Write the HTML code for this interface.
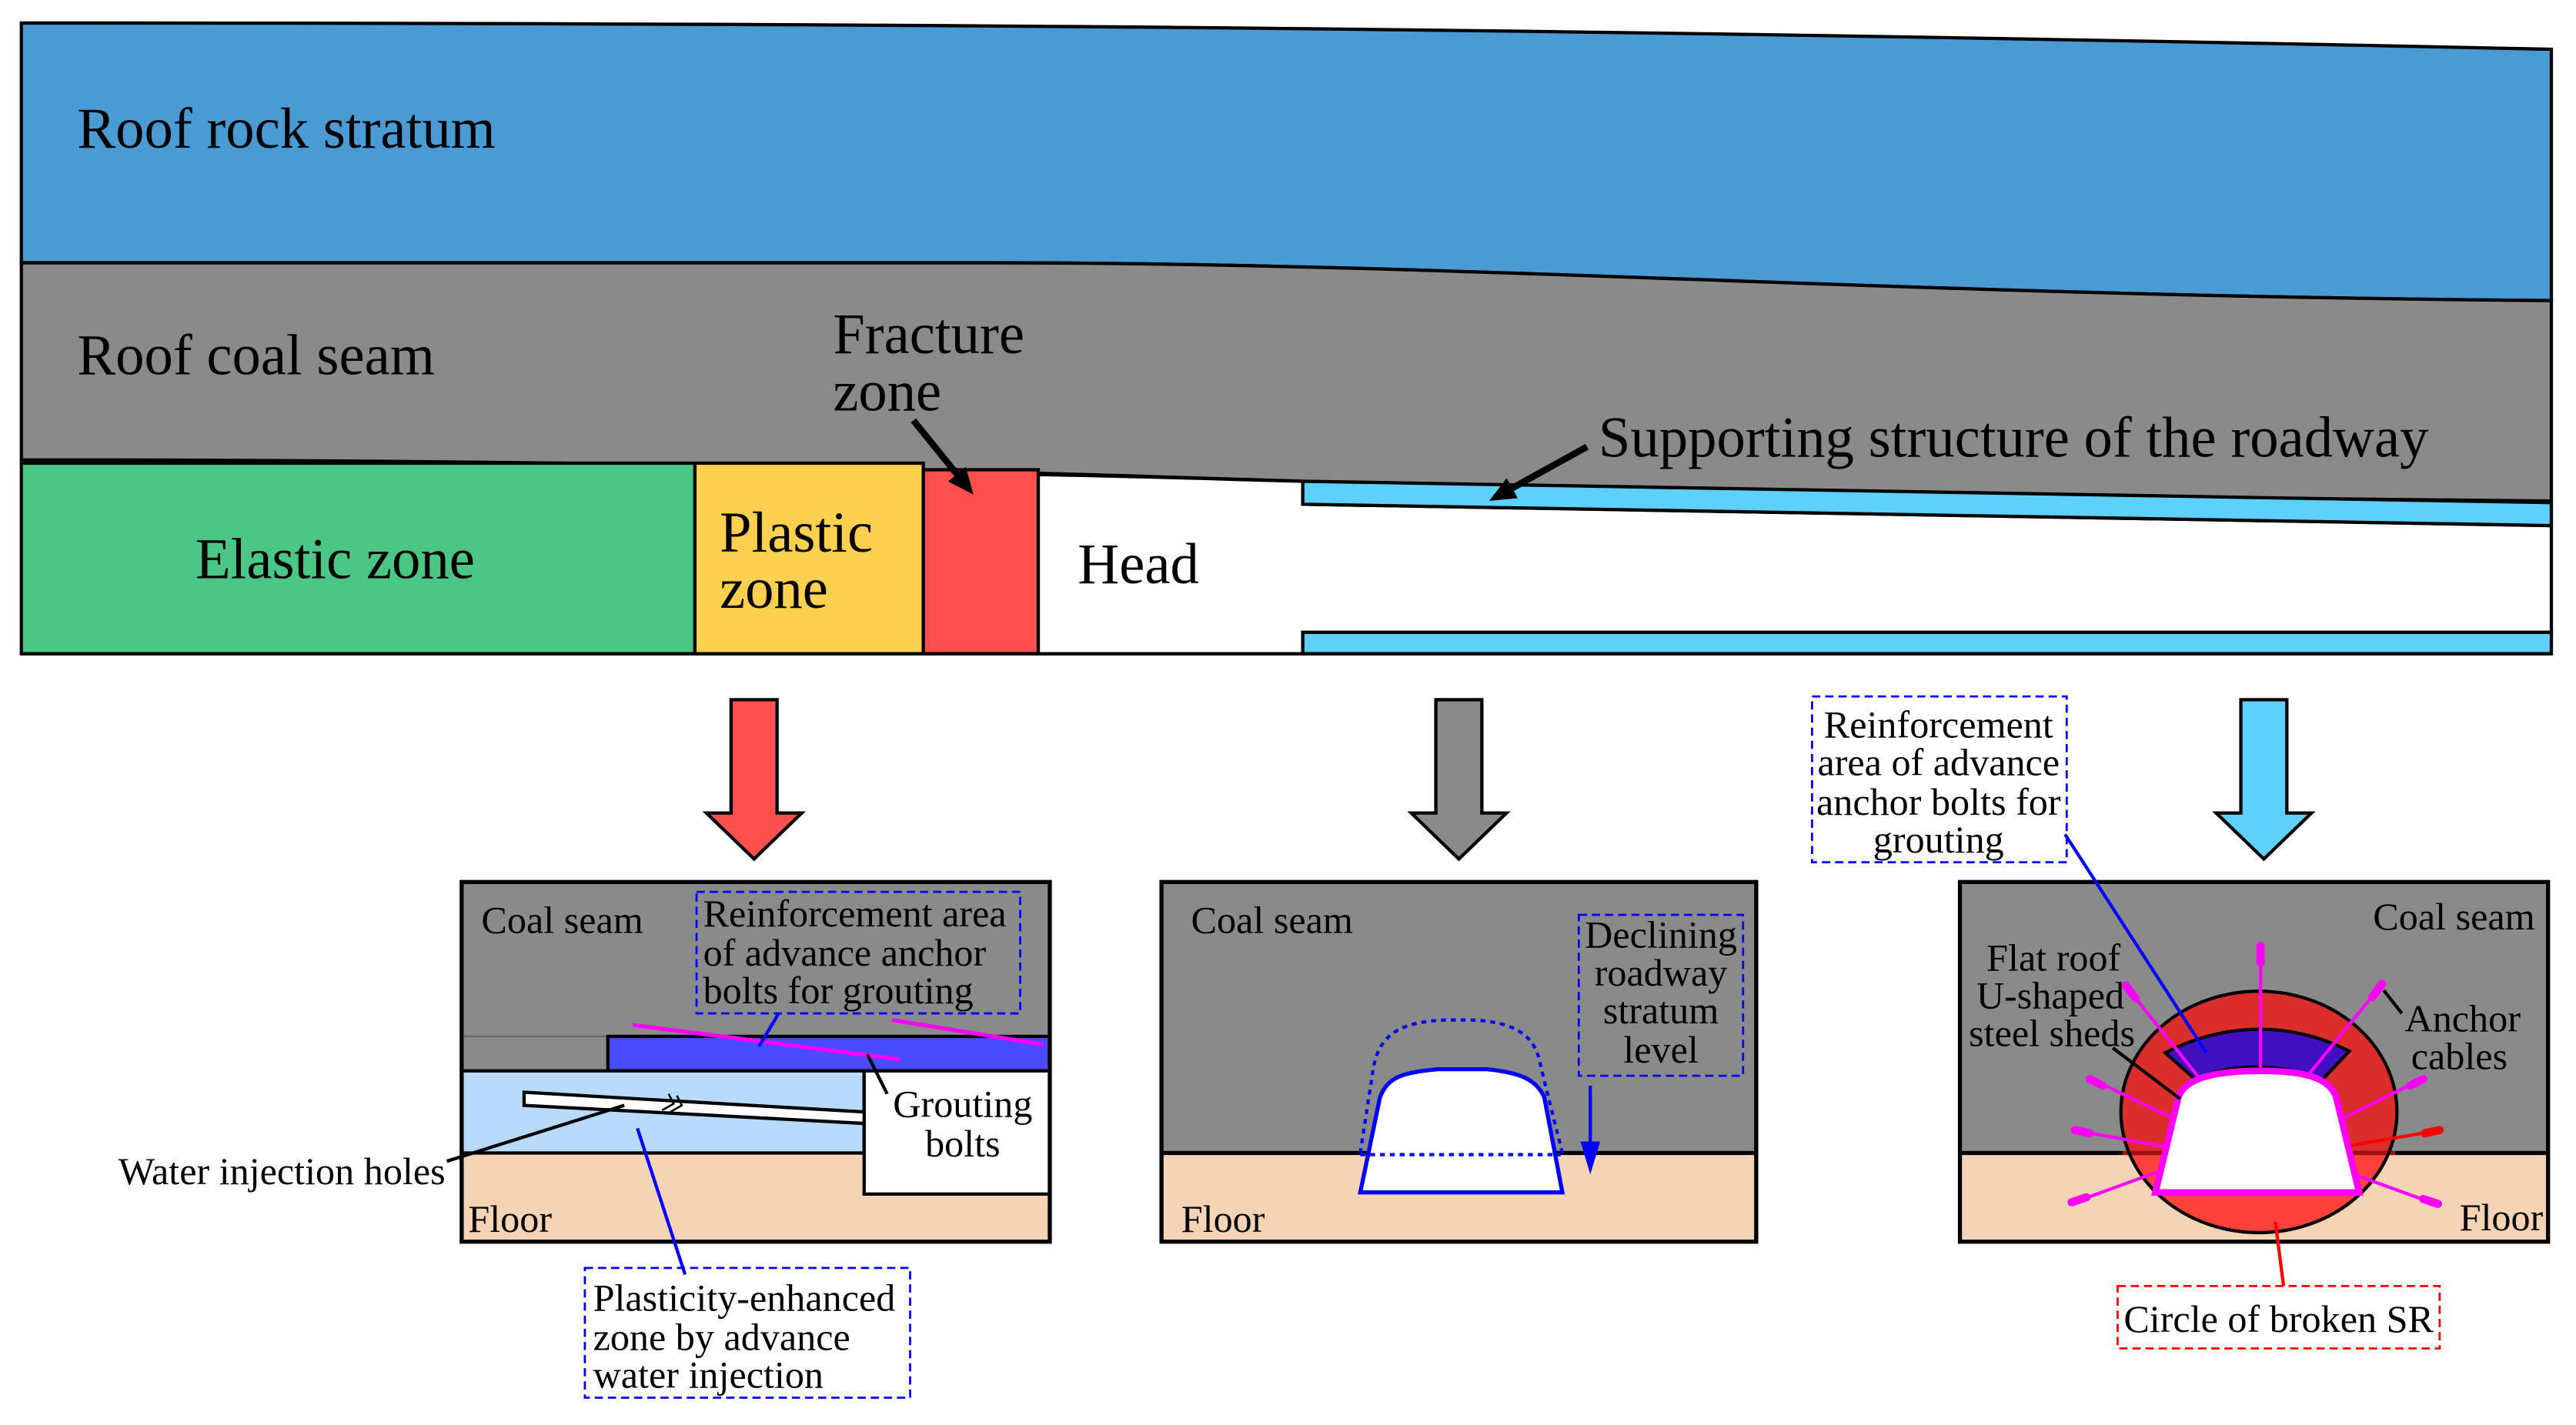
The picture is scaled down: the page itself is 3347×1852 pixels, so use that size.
<!DOCTYPE html>
<html><head><meta charset="utf-8"><style>
html,body{margin:0;padding:0;background:#fff}
svg{display:block}
text{font-family:"Liberation Serif",serif;fill:#000}
.s{font-size:23.5px}
.b{font-size:35px}
</style></head><body>
<svg width="3347" height="1852" viewBox="0 0 1568 867.6" xmlns="http://www.w3.org/2000/svg">
<defs>
<marker id="ah" markerWidth="16" markerHeight="14" refX="12" refY="7" orient="auto" markerUnits="userSpaceOnUse"><path d="M0,0 L16,7 L0,14 Z" fill="#000"/></marker>
</defs>
<path d="M13,14 C500,14 900,16 1553,30 L1553,183 C1150,180 900,160 600,160 L13,160 Z" fill="#4a9bd4" stroke="#000" stroke-width="2"/>
<path d="M13,160 L600,160 C900,160 1150,180 1553,183 L1553,305 C1200,302 1000,298 793,293 C600,287 400,280 13,280 Z" fill="#8a8a8a" stroke="#000" stroke-width="2"/>
<rect x="13" y="282" width="410" height="116" fill="#4cc684" stroke="#000" stroke-width="2"/>
<rect x="423" y="282" width="139" height="116" fill="#fdd14f" stroke="#000" stroke-width="2"/>
<rect x="562" y="286" width="70" height="112" fill="#fe4f4f" stroke="#000" stroke-width="2"/>
<path d="M632,289 C700,290 750,292 793,293 L793,307 L1553,320 L1553,385 L793,385 L793,398 L632,398 Z" fill="#fff" stroke="#000" stroke-width="2"/>
<path d="M793,293 L1553,306 L1553,320 L793,307 Z" fill="#5dd1fb" stroke="#000" stroke-width="2"/>
<rect x="793" y="385" width="760" height="13" fill="#5dd1fb" stroke="#000" stroke-width="2"/>
<line x1="13" y1="398" x2="1553" y2="398" stroke="#000" stroke-width="2"/>
<text x="47" y="90" class="b">Roof rock stratum</text>
<text x="47" y="228" class="b">Roof coal seam</text>
<text x="507" y="215" class="b">Fracture</text>
<text x="507" y="250" class="b">zone</text>
<line x1="556" y1="256" x2="590" y2="298" stroke="#000" stroke-width="4" marker-end="url(#ah)"/>
<text x="973" y="278" class="b">Supporting structure of the roadway</text>
<line x1="966" y1="272" x2="910" y2="303" stroke="#000" stroke-width="4" marker-end="url(#ah)"/>
<text x="119" y="352" class="b">Elastic zone</text>
<text x="438" y="336" class="b">Plastic</text>
<text x="438" y="370" class="b">zone</text>
<text x="656" y="355" class="b">Head</text>
<path d="M445,426 L473,426 L473,495 L488,495 L459,523 L430,495 L445,495 Z" fill="#fe4f4f" stroke="#000" stroke-width="2"/>
<path d="M874,426 L902,426 L902,495 L917,495 L888,523 L859,495 L874,495 Z" fill="#8a8a8a" stroke="#000" stroke-width="2"/>
<path d="M1364,426 L1392,426 L1392,495 L1407,495 L1378,523 L1349,495 L1364,495 Z" fill="#5dd1fb" stroke="#000" stroke-width="2"/>

<rect x="281" y="537" width="358" height="165" fill="#8a8a8a"/>
<rect x="281" y="702" width="358" height="54" fill="#f5d3b5"/>
<line x1="281" y1="631" x2="370" y2="631" stroke="#666" stroke-width="1"/>
<rect x="370" y="631" width="269" height="21" fill="#4a4aff" stroke="#000" stroke-width="2"/>
<rect x="281" y="652" width="245" height="50" fill="#b8dbfd" stroke="#000" stroke-width="2"/>
<rect x="526" y="652" width="113" height="75" fill="#fff" stroke="#000" stroke-width="2"/>
<path d="M319,665 L526,677 L526,684 L319,673 Z" fill="#fff" stroke="#000" stroke-width="2"/>
<path d="M407,666 L410,672 L403,676 M412,667 L415,673 L408,677" stroke="#000" stroke-width="1.2" fill="none"/>
<line x1="385" y1="624" x2="548" y2="645" stroke="#ff00ff" stroke-width="2.5"/>
<line x1="543" y1="621" x2="635" y2="636" stroke="#ff00ff" stroke-width="2.5"/>
<rect x="281" y="537" width="358" height="219" fill="none" stroke="#000" stroke-width="2.5"/>
<text x="293" y="568" class="s">Coal seam</text>
<text x="285" y="750" class="s">Floor</text>
<rect x="424" y="543" width="197" height="74" fill="none" stroke="#0000ff" stroke-width="1.3" stroke-dasharray="5,3"/>
<text x="428" y="564" class="s">Reinforcement area</text>
<text x="428" y="588" class="s">of advance anchor</text>
<text x="428" y="611" class="s">bolts for grouting</text>
<line x1="474" y1="617" x2="462" y2="637" stroke="#0000ff" stroke-width="2"/>
<line x1="528" y1="642" x2="540" y2="666" stroke="#000" stroke-width="2"/>
<text x="586" y="680" class="s" text-anchor="middle">Grouting</text>
<text x="586" y="704" class="s" text-anchor="middle">bolts</text>
<line x1="272" y1="707" x2="380" y2="673" stroke="#000" stroke-width="2"/>
<text x="72" y="721" class="s">Water injection holes</text>
<line x1="388" y1="687" x2="417" y2="776" stroke="#0000ff" stroke-width="2"/>
<rect x="356" y="772" width="198" height="79" fill="none" stroke="#0000ff" stroke-width="1.3" stroke-dasharray="5,3"/>
<text x="361" y="798" class="s">Plasticity-enhanced</text>
<text x="361" y="822" class="s">zone by advance</text>
<text x="361" y="845" class="s">water injection</text>

<rect x="707" y="537" width="362" height="165" fill="#8a8a8a"/>
<rect x="707" y="702" width="362" height="54" fill="#f5d3b5"/>
<line x1="707" y1="702" x2="1069" y2="702" stroke="#000" stroke-width="2.5"/>
<path d="M828,726 L840,668 C845,655 855,653 875,651 L905,651 C925,653 935,657 940,668 L951,726 Z" fill="#fff" stroke="#0000ff" stroke-width="2.5"/>
<path d="M828,702 L836,650 C840,628 855,622 880,621 L895,621 C922,622 935,630 938,650 L951,702" fill="none" stroke="#0000ff" stroke-width="2" stroke-dasharray="3,3"/>
<line x1="828" y1="703" x2="950" y2="703" stroke="#0000ff" stroke-width="2" stroke-dasharray="3,3"/>
<rect x="707" y="537" width="362" height="219" fill="none" stroke="#000" stroke-width="2.5"/>
<text x="725" y="568" class="s">Coal seam</text>
<text x="719" y="750" class="s">Floor</text>
<rect x="961" y="557" width="100" height="98" fill="none" stroke="#0000ff" stroke-width="1.3" stroke-dasharray="5,3"/>
<text x="1011" y="577" class="s" text-anchor="middle">Declining</text>
<text x="1011" y="600" class="s" text-anchor="middle">roadway</text>
<text x="1011" y="623" class="s" text-anchor="middle">stratum</text>
<text x="1011" y="647" class="s" text-anchor="middle">level</text>
<line x1="968" y1="661" x2="968" y2="697" stroke="#0000ff" stroke-width="2"/>
<path d="M962,695 L974,695 L968,715 Z" fill="#0000ff"/>

<rect x="1193" y="537" width="358" height="165" fill="#8a8a8a"/>
<rect x="1193" y="702" width="358" height="54" fill="#f5d3b5"/>
<clipPath id="up"><rect x="1100" y="500" width="500" height="202"/></clipPath>
<clipPath id="dn"><rect x="1100" y="702" width="500" height="100"/></clipPath>
<ellipse cx="1375" cy="677" rx="84" ry="73.5" fill="#dc2d2d" clip-path="url(#up)"/>
<ellipse cx="1375" cy="677" rx="84" ry="73.5" fill="#fd423c" clip-path="url(#dn)"/>
<line x1="1193" y1="702" x2="1551" y2="702" stroke="#000" stroke-width="2.5"/>
<line x1="1292" y1="702" x2="1458" y2="702" stroke="#a01010" stroke-width="2.5"/>
<ellipse cx="1375" cy="677" rx="84" ry="73.5" fill="none" stroke="#000" stroke-width="2"/>
<path d="M1318,641 C1355,622 1395,622 1430,640 L1413,658 C1390,647 1360,647 1336,657 Z" fill="#4010c0" stroke="#000" stroke-width="2"/>
<g stroke="#ff00ff" stroke-width="2" stroke-linecap="round">
<line x1="1376" y1="652" x2="1376" y2="574"/>
<line x1="1340" y1="658" x2="1293" y2="599"/>
<line x1="1403" y1="657" x2="1451" y2="598"/>
<line x1="1321" y1="680" x2="1271" y2="656"/>
<line x1="1426" y1="681" x2="1476" y2="656"/>
<line x1="1317" y1="698" x2="1262" y2="688"/>
<line x1="1312" y1="714" x2="1260" y2="733"/>
<line x1="1430" y1="714" x2="1485" y2="734"/>
</g>
<line x1="1427" y1="698" x2="1486" y2="688" stroke="#ff0000" stroke-width="2"/>
<g stroke="#ff00ff" stroke-width="5" stroke-linecap="round">
<line x1="1376" y1="576" x2="1376" y2="586"/>
<line x1="1294" y1="600" x2="1300" y2="608"/>
<line x1="1450" y1="599" x2="1444" y2="607"/>
<line x1="1272" y1="657" x2="1280" y2="661"/>
<line x1="1475" y1="657" x2="1467" y2="661"/>
<line x1="1263" y1="688" x2="1272" y2="690"/>
<line x1="1261" y1="732" x2="1270" y2="729"/>
<line x1="1484" y1="733" x2="1475" y2="730"/>
</g>
<line x1="1485" y1="688" x2="1476" y2="690" stroke="#ff0000" stroke-width="5" stroke-linecap="round"/>
<path d="M1312,726 L1326,668 C1330,656 1350,652 1376,652 C1402,652 1418,656 1422,668 L1436,726 Z" fill="#fff" stroke="#ff00ff" stroke-width="4"/>
<rect x="1193" y="537" width="358" height="219" fill="none" stroke="#000" stroke-width="2.5"/>
<text x="1543" y="566" class="s" text-anchor="end">Coal seam</text>
<text x="1548" y="749" class="s" text-anchor="end">Floor</text>
<text x="1250" y="591" class="s" text-anchor="middle">Flat roof</text>
<text x="1248" y="614" class="s" text-anchor="middle">U-shaped</text>
<text x="1249" y="637" class="s" text-anchor="middle">steel sheds</text>
<line x1="1286" y1="638" x2="1327" y2="669" stroke="#000" stroke-width="2"/>
<text x="1499" y="628" class="s" text-anchor="middle">Anchor</text>
<text x="1497" y="651" class="s" text-anchor="middle">cables</text>
<line x1="1451" y1="603" x2="1462" y2="617" stroke="#000" stroke-width="2"/>
<rect x="1103" y="424" width="155" height="101" fill="none" stroke="#0000ff" stroke-width="1.3" stroke-dasharray="5,3"/>
<text x="1180" y="449" class="s" text-anchor="middle">Reinforcement</text>
<text x="1180" y="472" class="s" text-anchor="middle">area of advance</text>
<text x="1180" y="496" class="s" text-anchor="middle">anchor bolts for</text>
<text x="1180" y="519" class="s" text-anchor="middle">grouting</text>
<line x1="1257" y1="508" x2="1343" y2="641" stroke="#0000ff" stroke-width="2"/>
<line x1="1385" y1="744" x2="1390" y2="783" stroke="#ff0000" stroke-width="2"/>
<rect x="1289" y="783" width="196" height="38" fill="none" stroke="#ff0000" stroke-width="1.3" stroke-dasharray="5,3"/>
<text x="1387" y="811" class="s" text-anchor="middle">Circle of broken SR</text>
</svg>
</body></html>
